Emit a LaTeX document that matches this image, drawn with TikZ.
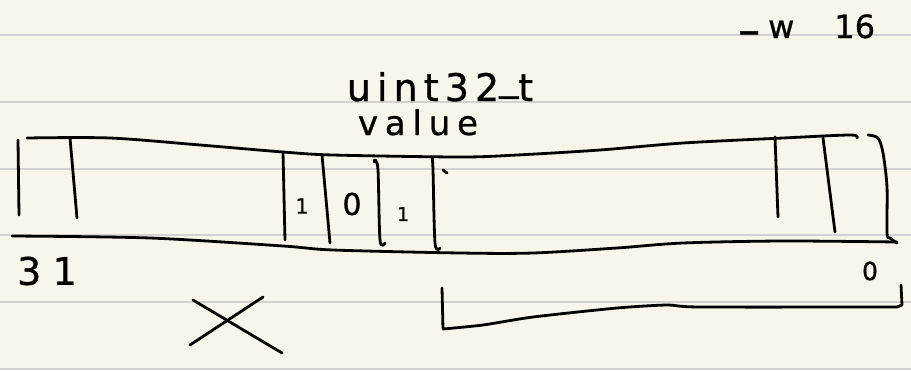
\documentclass[tikz,border=0pt]{standalone}
\usepackage{fontspec}
\newfontfamily\hand{DejaVu Sans}[FakeBold=0.8]
\definecolor{paper}{HTML}{F8F6EA}
\definecolor{rulegray}{HTML}{D2D2D2}
\begin{document}
\begin{tikzpicture}[x=1pt,y=-1pt,
  ink/.style={line width=2.8pt, line cap=round, line join=round, draw=black},
  rule/.style={line width=1.8pt, draw=rulegray},
  txt/.style={inner sep=0pt, text=black}]
\fill[paper] (0,0) rectangle (911,370);
\useasboundingbox (0,0) rectangle (911,370);
% ruled paper
\foreach \yy in {35,102,169,235,302,369}
  \draw[rule] (0,\yy) -- (911,\yy);

% register outline
\draw[ink] plot[smooth, tension=0.5] coordinates {(27,138) (110,138) (200,145) (283,152) (333,155) (460,157) (517,155) (600,150) (683,143) (783,138) (850,135) (857,138)};
\draw[ink] plot[smooth, tension=0.5] coordinates {(12,236) (150,238) (283,246) (333,250) (460,253) (533,253) (617,248) (683,243) (783,241) (897,242)};
\draw[ink] plot[smooth, tension=0.5] coordinates {(868,135) (878,138) (883,153) (887,187) (887,233) (890,238) (897,243)};

% bit dividers
\draw[ink] (18,140) -- (19,215);
\draw[ink] (70,138) -- (77,218);
\draw[ink] (283,152) -- (285,240);
\draw[ink] (322,155) -- (330,243);
\draw[ink] plot[smooth, tension=0.5] coordinates {(375,161) (378,170) (380,240) (385,243)};
\fill (375,161) circle (2.3pt);
\draw[ink] plot[smooth, tension=0.5] coordinates {(432,157) (433,170) (435,243) (440,248)};
\draw[ink] (443,170) -- (447,173);
\draw[ink] (775,137) -- (778,217);
\draw[ink] (823,138) -- (835,232);

% lower bracket
\draw[ink] (442,288) -- (443,329)
  plot[smooth, tension=0.4] coordinates {(443,329) (483,325) (533,317) (617,308) (667,305) (700,307) (897,307)}
  -- (902,305) -- (901,285);

% cross
\draw[ink] (193,300) -- (282,353);
\draw[ink] (190,345) -- (263,297);

% texts
\node[txt, anchor=base, font={\hand\fontsize{38}{38}\selectfont\addfontfeatures{LetterSpace=16}}] (type) at (440,101) {uint32\raisebox{11pt}{\_}t};
\node[txt, anchor=base, font={\hand\fontsize{34}{34}\selectfont\addfontfeatures{LetterSpace=20}}] (val) at (418,135) {value};
\node[txt, anchor=base west, font={\hand\fontsize{32}{32}\selectfont}] (flag) at (738,38) {\raisebox{-7pt}{\fontsize{44}{44}\selectfont –}\hspace{8pt}w\hspace{40pt}16};
\node[txt, font={\hand\fontsize{21}{21}\selectfont}] (b1) at (302,206) {1};
\node[txt, font={\hand\fontsize{30}{30}\selectfont}] (b0) at (352,204) {0};
\node[txt, font={\hand\fontsize{19}{19}\selectfont}] (b2) at (403,214) {1};
\node[txt, font={\hand\fontsize{38}{38}\selectfont\addfontfeatures{LetterSpace=30}}] (msb) at (47,271) {31};
\node[txt, font={\hand\fontsize{25}{25}\selectfont}] (lsb) at (870,271) {0};
\end{tikzpicture}
\end{document}
